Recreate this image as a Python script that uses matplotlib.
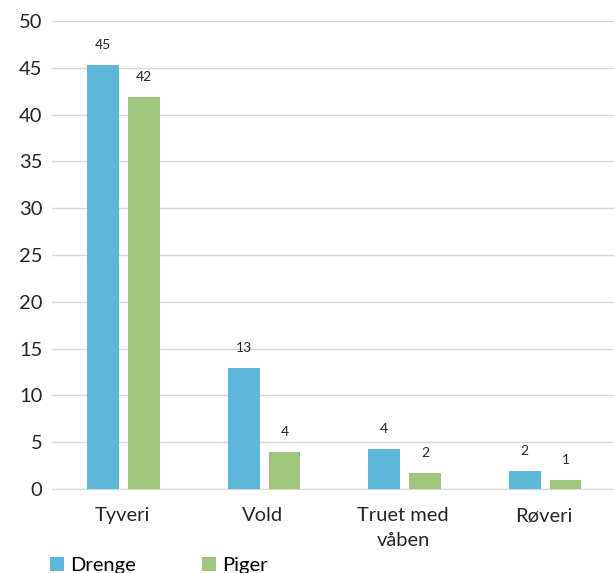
import matplotlib.pyplot as plt
import numpy as np

categories = ['Tyveri', 'Vold', 'Truet med\nvåben', 'Røveri']
drenge = [45.3, 12.9, 4.3, 1.9]
piger = [41.9, 4.0, 1.7, 0.95]
drenge_labels = ['45', '13', '4', '2']
piger_labels = ['42', '4', '2', '1']

blue = '#5EB6D9'
green = '#A0C57C'

plt.rcParams['font.family'] = ['Lato', 'DejaVu Sans']

fig = plt.figure(figsize=(6.14, 5.73), dpi=100)
ax = fig.add_axes([52 / 614, 1 - 489 / 573, 1 - 52 / 614, (489 - 21) / 573])

x = np.arange(len(categories))
w = 0.226
off = 0.145
b1 = ax.bar(x - off + 0.01, drenge, w, color=blue, label='Drenge', zorder=3)
b2 = ax.bar(x + off + 0.01, piger, w, color=green, label='Piger', zorder=3)

for bars, labs in ((b1, drenge_labels), (b2, piger_labels)):
    for bar, lab in zip(bars, labs):
        ax.annotate(lab, (bar.get_x() + bar.get_width() / 2, bar.get_height()),
                    xytext=(0, 10), textcoords='offset points',
                    ha='center', va='bottom', fontsize=10, color='#262626')

ax.set_xlim(-0.5, len(categories) - 0.5)
ax.set_ylim(0, 50)
ax.set_yticks(range(0, 51, 5))
ax.set_xticks(x)
ax.set_xticklabels(categories, fontsize=14.5, color='#262626', linespacing=1.55)
ax.tick_params(axis='y', labelsize=14.5, labelcolor='#262626', length=0, pad=7)
ax.tick_params(axis='x', length=0, pad=13)
ax.grid(axis='y', color='#D9D9D9', linewidth=1, zorder=0)
for s in ['top', 'right', 'left']:
    ax.spines[s].set_visible(False)
ax.spines['bottom'].set_color('#D9D9D9')

fig.legend(loc='upper left', bbox_to_anchor=(50 / 614, 1 - 557 / 573), ncol=2,
           frameon=False, fontsize=14.5, handlelength=0.7, handleheight=0.7,
           handletextpad=0.3, columnspacing=3.3, borderaxespad=0, borderpad=0)

fig.savefig('out.png', dpi=100)
